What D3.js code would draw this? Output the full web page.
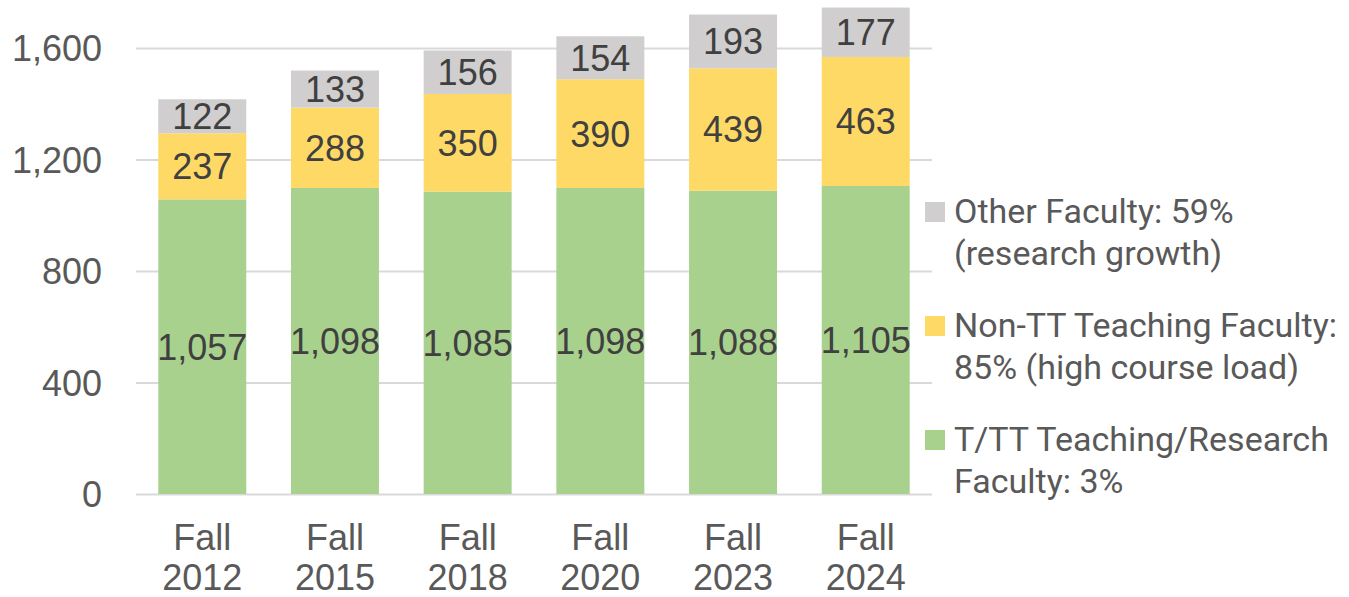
<!DOCTYPE html>
<html>
<head>
<meta charset="utf-8">
<script src="https://cdn.jsdelivr.net/npm/d3@7"></script>
<style>
  html, body { margin: 0; padding: 0; background: #fff; }
  svg { display: block; }
</style>
</head>
<body>
<svg id="chart" width="1349" height="597"></svg>
<script>
// Faculty headcount by term, stacked by faculty type
const terms = ["Fall 2012", "Fall 2015", "Fall 2018", "Fall 2020", "Fall 2023", "Fall 2024"];
const ttFaculty = [1057, 1098, 1085, 1098, 1088, 1105];
const nonTTFaculty = [237, 288, 350, 390, 439, 463];
const otherFaculty = [122, 133, 156, 154, 193, 177];
const yTicks = [0, 400, 800, 1200, 1600];

const seriesKeys = ["tt", "nonTT", "other"];
const seriesColors = { tt: "#A9D18E", nonTT: "#FFD966", other: "#D0CECE" };
const legendItems = [
  { key: "other", lines: ["Other Faculty: 59%", "(research growth)"] },
  { key: "nonTT", lines: ["Non-TT Teaching Faculty:", "85% (high course load)"] },
  { key: "tt", lines: ["T/TT Teaching/Research", "Faculty: 3%"] }
];

const rows = terms.map((t, i) => ({
  term: t, tt: ttFaculty[i], nonTT: nonTTFaculty[i], other: otherFaculty[i]
}));

const svg = d3.select("#chart");
const plot = { left: 136, right: 932, top: 48, bottom: 494 };

const x = d3.scaleBand().domain(terms).range([plot.left, plot.right]).paddingInner(0.337).paddingOuter(0.168);
const y = d3.scaleLinear().domain([0, 1600]).range([plot.bottom, plot.top]);

// Gridlines and value axis
const yAxis = d3.axisLeft(y).tickValues(yTicks).tickFormat(d3.format(",")).tickSize(-(plot.right - plot.left)).tickPadding(34);
const gy = svg.append("g").attr("transform", `translate(${plot.left},0)`).call(yAxis);
gy.select(".domain").remove();
gy.selectAll(".tick line").attr("stroke", "#D9D9D9").attr("stroke-width", 2);
gy.selectAll(".tick text")
  .attr("fill", "#595959")
  .style("font-family", "'Liberation Sans', Arial, sans-serif")
  .style("font-size", "36px")
  .attr("dy", "0.36em");

// Stacked bars
const stack = d3.stack().keys(seriesKeys)(rows);
const layers = svg.append("g").selectAll("g").data(stack).join("g").attr("fill", d => seriesColors[d.key]);
layers.selectAll("rect").data(d => d).join("rect")
  .attr("x", d => x(d.data.term))
  .attr("width", x.bandwidth())
  .attr("y", d => y(d[1]))
  .attr("height", d => y(d[0]) - y(d[1]));

// Segment value labels
const lbl = svg.append("g")
  .style("font-family", "'Liberation Sans', Arial, sans-serif")
  .style("font-size", "36px")
  .attr("fill", "#404040")
  .attr("text-anchor", "middle");
stack.forEach(layer => {
  layer.forEach(d => {
    lbl.append("text")
      .attr("x", x(d.data.term) + x.bandwidth() / 2)
      .attr("y", (y(d[0]) + y(d[1])) / 2)
      .attr("dy", "0.36em")
      .text(d3.format(",")(d[1] - d[0]));
  });
});

// Category axis labels (two lines each)
const gx = svg.append("g")
  .style("font-family", "'Liberation Sans', Arial, sans-serif")
  .style("font-size", "36px")
  .attr("fill", "#595959")
  .attr("text-anchor", "middle");
terms.forEach(t => {
  const parts = t.split(" ");
  const cx = x(t) + x.bandwidth() / 2;
  const tx = gx.append("text").attr("x", cx).attr("y", 550);
  tx.append("tspan").attr("x", cx).text(parts[0]);
  tx.append("tspan").attr("x", cx).attr("dy", 40).text(parts[1]);
});

// Legend
const lg = svg.append("g").style("font-family", "Roboto, 'Open Sans', sans-serif").style("font-size", "34px").attr("fill", "#595959");
legendItems.forEach((item, i) => {
  const by = 223 + i * 114;
  lg.append("rect").attr("x", 925).attr("y", by - 21).attr("width", 20).attr("height", 20).attr("fill", seriesColors[item.key]);
  item.lines.forEach((line, j) => {
    lg.append("text").attr("x", 954).attr("y", by + j * 42).text(line);
  });
});
</script>
</body>
</html>
